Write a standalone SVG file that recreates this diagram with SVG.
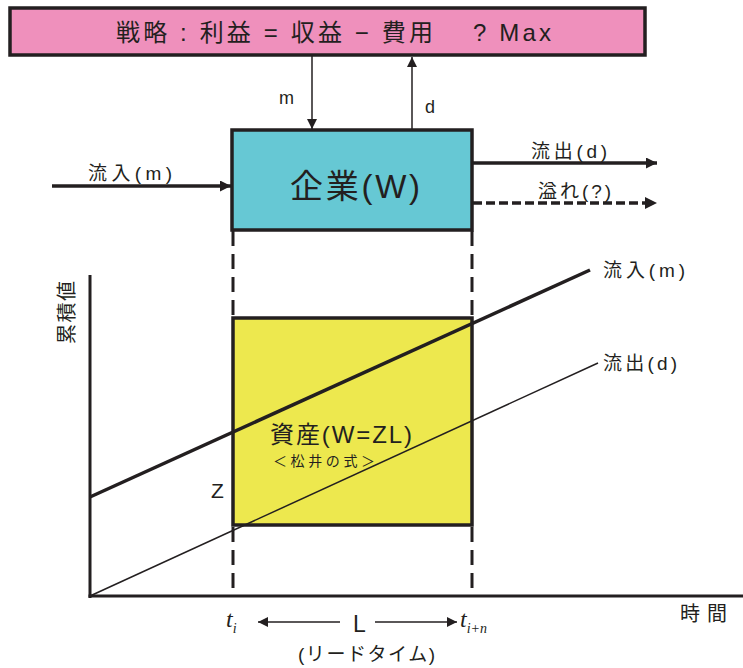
<svg xmlns="http://www.w3.org/2000/svg" width="743" height="668" viewBox="0 0 743 668">
<defs>
<style>
.t{font-family:"Liberation Sans","Noto Sans CJK JP",sans-serif;fill:#231F20}
.box{stroke:#231F20;stroke-width:3.5}
.ln{stroke:#231F20;fill:none}
.dash{stroke:#231F20;stroke-width:3;stroke-dasharray:15 8}
</style>
<marker id="ah" viewBox="0 0 10 10" refX="10" refY="5" markerWidth="10" markerHeight="10" markerUnits="userSpaceOnUse" orient="auto">
<path d="M0,0 L10,5 L0,10 Z" fill="#231F20"/>
</marker>
<marker id="ahb" viewBox="0 0 10 10" refX="10" refY="5" markerWidth="13" markerHeight="11" markerUnits="userSpaceOnUse" orient="auto">
<path d="M0,0 L10,5 L0,10 Z" fill="#231F20"/>
</marker>
</defs>
<rect width="743" height="668" fill="#fff"/>

<g id="strategy">
<rect class="box" x="10" y="8" width="635" height="47" fill="#EF90BC"/>
<text class="t" x="116" y="41" font-size="24" textLength="435" lengthAdjust="spacing">戦略 : 利益 = 収益 − 費用　 ? Max</text>
</g>

<g id="company">
<rect class="box" x="232" y="130" width="240" height="100" fill="#66C8D4"/>
<text class="t" x="290" y="198" font-size="33" textLength="130" lengthAdjust="spacing">企業(W)</text>
</g>

<g id="asset">
<rect class="box" x="233" y="318" width="239" height="207" fill="#EDE84E" stroke-width="3"/>
<text class="t" x="270" y="443" font-size="24" textLength="142" lengthAdjust="spacing">資産(W=ZL)</text>
<text class="t" x="273" y="466" font-size="14" textLength="102" lengthAdjust="spacing">＜松井の式＞</text>
</g>

<g id="connectors">
<line class="ln" x1="312" y1="56" x2="312" y2="129" stroke-width="1.5" marker-end="url(#ah)"/>
<line class="ln" x1="412" y1="129" x2="412" y2="57" stroke-width="1.5" marker-end="url(#ah)"/>
<line class="ln" x1="52" y1="186" x2="231" y2="186" stroke-width="3.5" marker-end="url(#ahb)"/>
<line class="ln" x1="473" y1="163" x2="657" y2="163" stroke-width="3.5" marker-end="url(#ahb)"/>
<line class="ln" x1="473" y1="203" x2="648" y2="203" stroke-width="3.5" stroke-dasharray="9 4"/>
<path d="M645,197 L657,203 L645,209 Z" fill="#231F20"/>
<line class="dash" x1="233" y1="231" x2="233" y2="318"/>
<line class="dash" x1="472" y1="231" x2="472" y2="318"/>
<line class="dash" x1="233" y1="527" x2="233" y2="596"/>
<line class="dash" x1="472" y1="527" x2="472" y2="596"/>
<line class="ln" x1="90" y1="275" x2="90" y2="598" stroke-width="3"/>
<line class="ln" x1="88.5" y1="596" x2="743" y2="596" stroke-width="3"/>
<line class="ln" x1="90" y1="497" x2="590" y2="270" stroke-width="3.5"/>
<line class="ln" x1="90" y1="596" x2="598" y2="363" stroke-width="1.5"/>
<line class="ln" x1="340" y1="622" x2="258" y2="622" stroke-width="1.5" marker-end="url(#ah)"/>
<line class="ln" x1="375" y1="622" x2="457" y2="622" stroke-width="1.5" marker-end="url(#ah)"/>
</g>

<g id="labels">
<text class="t" x="279" y="104" font-size="18">m</text>
<text class="t" x="425" y="113" font-size="18">d</text>
<text class="t" x="88" y="180" font-size="19" textLength="84" lengthAdjust="spacing">流入(m)</text>
<text class="t" x="531" y="158" font-size="19" textLength="76" lengthAdjust="spacing">流出(d)</text>
<text class="t" x="538" y="198" font-size="19" textLength="73" lengthAdjust="spacing">溢れ(?)</text>
<text class="t" x="603" y="277" font-size="19" textLength="82" lengthAdjust="spacing">流入(m)</text>
<text class="t" x="603" y="370" font-size="19" textLength="74" lengthAdjust="spacing">流出(d)</text>
<text class="t" x="211" y="498" font-size="21">Z</text>
<text class="t" x="680" y="621" font-size="20" textLength="47" lengthAdjust="spacing">時間</text>
<text class="t" font-size="20" textLength="63" lengthAdjust="spacing" transform="translate(74,344) rotate(-90)">累積値</text>
<text x="226" y="627" font-family="Liberation Serif,serif" font-style="italic" font-size="24" fill="#231F20">t<tspan font-size="14" dy="6">i</tspan></text>
<text class="t" x="353" y="632" font-size="23">L</text>
<text x="460" y="627" font-family="Liberation Serif,serif" font-style="italic" font-size="24" fill="#231F20">t<tspan font-size="14" dy="6">i+n</tspan></text>
<text class="t" x="298" y="661" font-size="19" textLength="137" lengthAdjust="spacing">(リードタイム)</text>
</g>
</svg>
